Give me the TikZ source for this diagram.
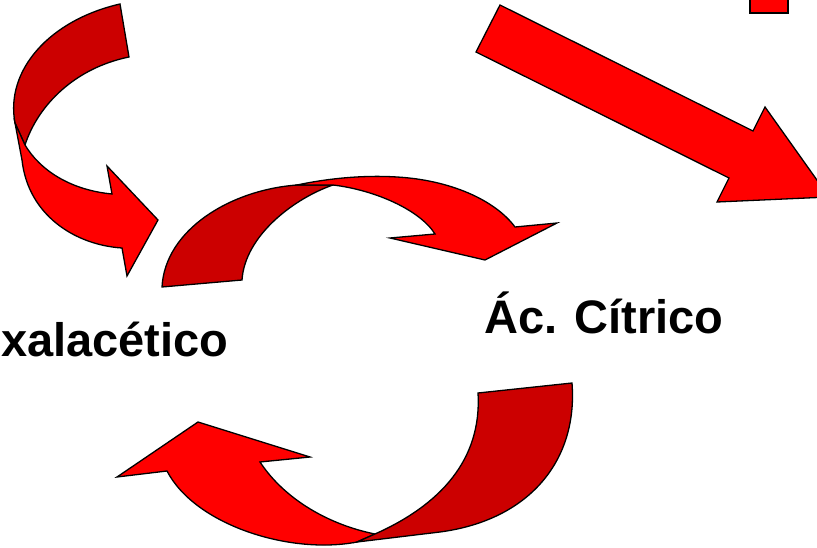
\documentclass[tikz,border=0pt]{standalone}
\usepackage{fontspec}
\setmainfont{Liberation Sans}

\definecolor{ribbonred}{RGB}{255,0,0}
\definecolor{ribbondark}{RGB}{204,0,0}

\begin{document}
\begin{tikzpicture}[x=1pt,y=-1pt,
  front/.style={fill=ribbonred, draw=black, line width=1.3pt, line join=miter},
  back/.style={fill=ribbondark, draw=black, line width=1.3pt, line join=miter},
  label/.style={inner sep=0pt, anchor=base west, font=\bfseries\fontsize{47}{53}\selectfont}]
  \clip (0,0) rectangle (817,548);

  % Top left: curved arrow coming down
  \draw[back] (120,4) .. controls (50,20) and (5,70) .. (15,123) -- (25,145)
    .. controls (38,105) and (75,68) .. (129,57) -- cycle;
  \draw[front] (15,123) -- (22,160) .. controls (28,215) and (75,245) .. (122,248)
    -- (127,276) -- (158,220) -- (107,166) -- (112,194)
    .. controls (70,190) and (40,170) .. (25,145) -- cycle;

  % Top middle: curved arrow to the citrate
  \draw[back] (162,287) .. controls (165,230) and (230,190) .. (297,185) -- (333,185)
    .. controls (295,198) and (245,235) .. (242,280) -- cycle;
  \draw[front] (297,185) .. controls (330,178) and (365,175) .. (397,177)
    .. controls (450,180) and (495,200) .. (515,227) -- (557,223) -- (485,260)
    -- (390,238) -- (435,234) .. controls (420,210) and (375,190) .. (333,185) -- cycle;

  % Top right: straight arrow and stub
  \draw[front] (500,5) -- (476,52) -- (729,178) -- (717,202) -- (829,197)
    -- (765,107) -- (753,131) -- cycle;
  \draw[front] (750,-10) rectangle (788,13);

  % Bottom: curved arrow back to the oxaloacetate
  \draw[front] (375,534) .. controls (330,525) and (285,500) .. (260,462) -- (310,457)
    -- (198,422) -- (117,477) -- (167,471)
    .. controls (195,525) and (290,555) .. (357,542) -- cycle;
  \draw[back] (478,393) -- (572,383) .. controls (578,460) and (530,520) .. (440,532)
    -- (357,542) -- (375,534) .. controls (440,505) and (482,460) .. (478,393) -- cycle;

  % Labels
  \node[label] (oxal) at (1,356) {xalacético};
  \node[label] (citr) at (484,334) {Ác. Cítrico};
\end{tikzpicture}
\end{document}
